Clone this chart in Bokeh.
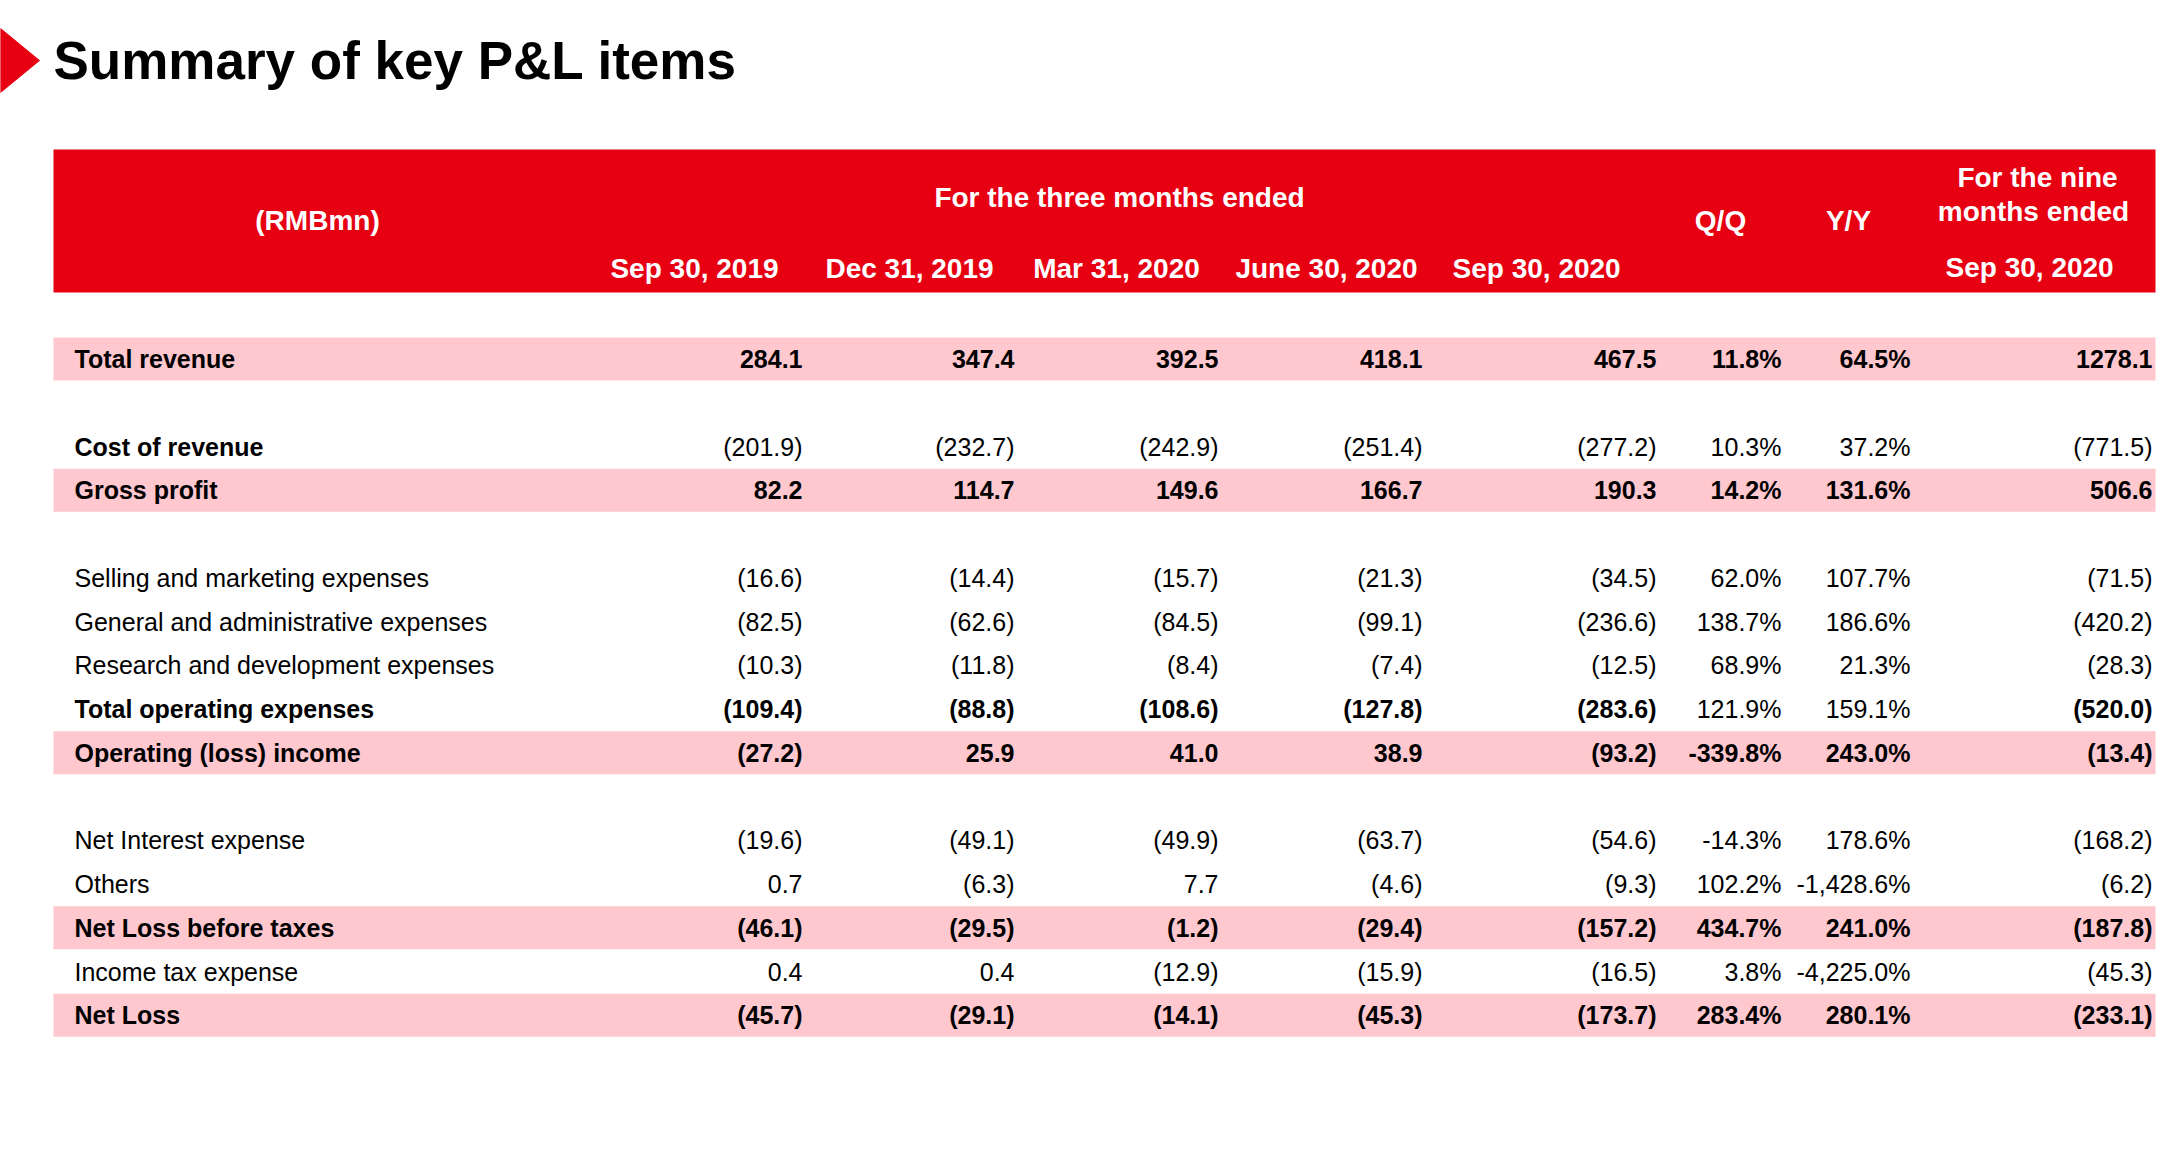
from bokeh.plotting import figure
from bokeh.models import Range1d, ColumnDataSource
from bokeh.core.properties import value
from bokeh.embed import file_html
from bokeh.resources import INLINE

# ---------------- data ----------------
title = "Summary of key P&L items"
unit_label = "(RMBmn)"
group_label = "For the three months ended"
quarter_labels = ["Sep 30, 2019", "Dec 31, 2019", "Mar 31, 2020", "June 30, 2020", "Sep 30,  2020"]
qq_label = "Q/Q"
yy_label = "Y/Y"
nine_label = ["For the nine", "months ended", "Sep 30,  2020"]

row_labels = ["Total revenue", "Cost of revenue", "Gross profit",
              "Selling and marketing expenses", "General and administrative expenses",
              "Research and development expenses", "Total operating expenses",
              "Operating (loss) income", "Net Interest expense", "Others",
              "Net Loss before taxes", "Income tax expense", "Net Loss"]
row_slot = [0, 2, 3, 5, 6, 7, 8, 9, 11, 12, 13, 14, 15]
highlight = [True, False, True, False, False, False, False, True, False, False, True, False, True]
label_bold = [True, True, True, False, False, False, True, True, False, False, True, False, True]
value_bold = [True, False, True, False, False, False, True, True, False, False, True, False, True]
pct_bold = [True, False, True, False, False, False, False, True, False, False, True, False, True]

sep19 = [284.1, -201.9, 82.2, -16.6, -82.5, -10.3, -109.4, -27.2, -19.6, 0.7, -46.1, 0.4, -45.7]
dec19 = [347.4, -232.7, 114.7, -14.4, -62.6, -11.8, -88.8, 25.9, -49.1, -6.3, -29.5, 0.4, -29.1]
mar20 = [392.5, -242.9, 149.6, -15.7, -84.5, -8.4, -108.6, 41.0, -49.9, 7.7, -1.2, -12.9, -14.1]
jun20 = [418.1, -251.4, 166.7, -21.3, -99.1, -7.4, -127.8, 38.9, -63.7, -4.6, -29.4, -15.9, -45.3]
sep20 = [467.5, -277.2, 190.3, -34.5, -236.6, -12.5, -283.6, -93.2, -54.6, -9.3, -157.2, -16.5, -173.7]
qoq = [11.8, 10.3, 14.2, 62.0, 138.7, 68.9, 121.9, -339.8, -14.3, 102.2, 434.7, 3.8, 283.4]
yoy = [64.5, 37.2, 131.6, 107.7, 186.6, 21.3, 159.1, 243.0, 178.6, -1428.6, 241.0, -4225.0, 280.1]
nine_m = [1278.1, -771.5, 506.6, -71.5, -420.2, -28.3, -520.0, -13.4, -168.2, -6.2, -187.8, -45.3, -233.1]

# ---------------- layout / style ----------------
W, H = 2164, 1147
RED = "#E60012"
PINK = "#FFC7CE"
FONT = "Liberation Sans"
TBL_L, TBL_R = 53, 2155
HDR_T, HDR_B = 149, 292
ROW0_Y = 358.5
PITCH = 43.75
BAND_H = 43
LABEL_X = 74
VALUE_RIGHT = [802, 1014, 1218, 1422, 1656, 1781, 1910, 2152]
QHDR_X = [694, 909, 1116, 1326, 1540]

p = figure(width=W, height=H, output_backend="svg", toolbar_location=None,
           x_range=Range1d(0, W), y_range=Range1d(H, 0),
           x_axis_location=None, y_axis_location=None, min_border=0)
p.grid.visible = False
p.outline_line_color = None
p.background_fill_color = "white"

# title marker and title
p.patch(x=[0, 39, 0], y=[28, 60, 92], fill_color=RED, line_color=RED)
p.text(x=[53], y=[60], text=[title], text_font=value(FONT), text_font_style="bold",
       text_font_size="53px", text_baseline="middle", text_align="left", text_color="black")

# header
p.quad(left=[TBL_L], right=[TBL_R], top=[HDR_T], bottom=[HDR_B], fill_color=RED, line_color=None)
hdr_x = [317, 1119] + QHDR_X + [1720, 1848, 2037, 2033, 2033]
hdr_y = [220, 197] + [268] * 5 + [220, 220, 177, 211, 267]
hdr_t = [unit_label, group_label] + quarter_labels + [qq_label, yy_label] + nine_label
p.text(x=hdr_x, y=hdr_y, text=hdr_t, text_font=value(FONT), text_font_style="bold",
       text_font_size="28px", text_baseline="middle", text_align="center", text_color="white")

# pink bands
ys = [ROW0_Y + s * PITCH for s in row_slot]
band_y = [y for y, h in zip(ys, highlight) if h]
p.rect(x=[(TBL_L + TBL_R) / 2] * len(band_y), y=band_y, width=TBL_R - TBL_L, height=BAND_H,
       fill_color=PINK, line_color=None)

def fmt_num(v):
    return "({:.1f})".format(-v) if v < 0 else "{:.1f}".format(v)

def fmt_pct(v):
    return "{:,.1f}%".format(v)

def add_texts(xs, yv, texts, bolds, align):
    for flag in (True, False):
        sel = [i for i, b in enumerate(bolds) if b == flag]
        if not sel:
            continue
        src = ColumnDataSource(dict(x=[xs[i] for i in sel], y=[yv[i] for i in sel],
                                    t=[texts[i] for i in sel]))
        p.text(x="x", y="y", text="t", source=src, text_font=value(FONT),
               text_font_style="bold" if flag else "normal", text_font_size="25px",
               text_baseline="middle", text_align=align, text_color="black")

n = len(row_labels)
add_texts([LABEL_X] * n, ys, row_labels, label_bold, "left")
num_cols = [sep19, dec19, mar20, jun20, sep20]
for ci, col in enumerate(num_cols):
    add_texts([VALUE_RIGHT[ci]] * n, ys, [fmt_num(v) for v in col], value_bold, "right")
add_texts([VALUE_RIGHT[5]] * n, ys, [fmt_pct(v) for v in qoq], pct_bold, "right")
add_texts([VALUE_RIGHT[6]] * n, ys, [fmt_pct(v) for v in yoy], pct_bold, "right")
add_texts([VALUE_RIGHT[7]] * n, ys, [fmt_num(v) for v in nine_m], value_bold, "right")

open("out.html", "w").write(file_html(p, INLINE))
